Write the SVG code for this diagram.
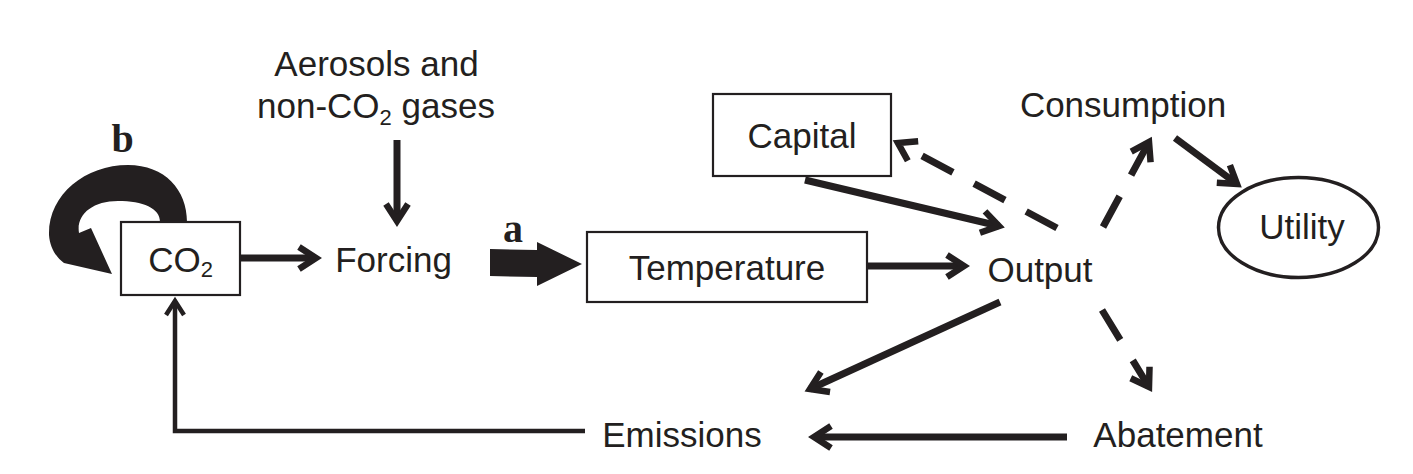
<svg xmlns="http://www.w3.org/2000/svg" width="1413" height="474" viewBox="0 0 1413 474">
<style>
  text { font-family: "Liberation Sans", Arial, sans-serif; font-size: 35px; fill: #231f20; }
  .lbl { font-family: "Liberation Serif", "Times New Roman", serif; font-weight: bold; font-size: 40px; }
  .box { fill: #ffffff; stroke: #231f20; stroke-width: 2.2; }
  .ell { fill: #ffffff; stroke: #231f20; stroke-width: 3.5; }
  .c { fill: none; stroke: #231f20; stroke-width: 7; stroke-linecap: butt; }
  .thin { fill: none; stroke: #231f20; stroke-width: 4.5; }
  .dash { stroke-dasharray: 35 24; }
  .solid { fill: #231f20; stroke: none; }
</style>
<defs>
  <marker id="ah" markerUnits="userSpaceOnUse" markerWidth="40" markerHeight="40" viewBox="-25 -20 40 40" refX="0" refY="0" orient="auto" overflow="visible">
    <path d="M-17,-11 L0,0 L-17,11" fill="none" stroke="#231f20" stroke-width="6.5" stroke-linejoin="miter" stroke-miterlimit="10"/>
  </marker>
  <marker id="ahs" markerUnits="userSpaceOnUse" markerWidth="40" markerHeight="40" viewBox="-25 -20 40 40" refX="0" refY="0" orient="auto" overflow="visible">
    <path d="M-14,-9 L0,0 L-14,9" fill="none" stroke="#231f20" stroke-width="4.5" stroke-linejoin="miter" stroke-miterlimit="10"/>
  </marker>
</defs>

<g id="connectors">
  <!-- self loop b -->
  <path id="loop-b" class="solid" d="M187,222 C187,190 165,165 128,165 C85,165 48,195 49,235 C50,248 56,257 64,263 L112,274 L91,228 L79,233 C76,215 92,201 118,201 C143,201 160,208 160,222 Z"/>
  <!-- big arrow a -->
  <polygon id="arrow-a" class="solid" points="490,249 537,250 537,242 582,264 537,286 537,277 490,276"/>
  <!-- CO2 -> Forcing -->
  <line class="c" x1="240" y1="258" x2="316" y2="258" marker-end="url(#ah)"/>
  <!-- Aerosols -> Forcing -->
  <line class="c" x1="397" y1="140" x2="397" y2="221" marker-end="url(#ah)"/>
  <!-- Temperature -> Output -->
  <line class="c" x1="867" y1="266" x2="964" y2="266" marker-end="url(#ah)"/>
  <!-- Capital -> Output -->
  <line class="c" x1="805" y1="180" x2="999" y2="226" marker-end="url(#ah)"/>
  <!-- Output -> Capital (dashed) -->
  <line class="c dash" x1="1057" y1="228" x2="898" y2="143" marker-end="url(#ah)"/>
  <!-- Output -> Consumption (dashed) -->
  <line class="c dash" x1="1103" y1="227" x2="1149" y2="142" marker-end="url(#ah)"/>
  <!-- Output -> Abatement (dashed) -->
  <line class="c dash" x1="1102" y1="310" x2="1149" y2="387" marker-end="url(#ah)"/>
  <!-- Consumption -> Utility -->
  <line class="c" x1="1175" y1="138" x2="1237" y2="184" marker-end="url(#ah)"/>
  <!-- Output -> Emissions -->
  <line class="c" x1="1000" y1="302" x2="810" y2="389" marker-end="url(#ah)"/>
  <!-- Abatement -> Emissions -->
  <line class="c" x1="1067" y1="437" x2="814" y2="437" marker-end="url(#ah)"/>
  <!-- Emissions -> CO2 -->
  <polyline class="thin" points="585,431 175,431 175,301" marker-end="url(#ahs)"/>
</g>

<g id="node-co2">
  <rect class="box" x="121" y="222" width="119" height="73"/>
  <text x="180.5" y="272" text-anchor="middle">CO<tspan font-size="22" dy="5">2</tspan></text>
</g>
<g id="label-b"><text class="lbl" x="122.5" y="152" text-anchor="middle">b</text></g>
<g id="label-a"><text class="lbl" x="513" y="242" text-anchor="middle">a</text></g>
<g id="node-aerosols">
  <text x="376.5" y="76" text-anchor="middle">Aerosols and</text>
  <text x="376" y="118" text-anchor="middle">non-CO<tspan font-size="22" dy="7">2</tspan><tspan dy="-7"> gases</tspan></text>
</g>
<g id="node-forcing"><text x="393.5" y="272" text-anchor="middle">Forcing</text></g>
<g id="node-temperature">
  <rect class="box" x="587" y="232" width="280" height="70"/>
  <text x="727" y="280" text-anchor="middle">Temperature</text>
</g>
<g id="node-capital">
  <rect class="box" x="713" y="94" width="178" height="82"/>
  <text x="802" y="148" text-anchor="middle">Capital</text>
</g>
<g id="node-output"><text x="1040" y="282" text-anchor="middle">Output</text></g>
<g id="node-consumption"><text x="1123" y="117" text-anchor="middle">Consumption</text></g>
<g id="node-utility">
  <ellipse class="ell" cx="1298.5" cy="227.5" rx="80" ry="50"/>
  <text x="1302" y="239" text-anchor="middle">Utility</text>
</g>
<g id="node-abatement"><text x="1178" y="447" text-anchor="middle">Abatement</text></g>
<g id="node-emissions"><text x="682" y="447" text-anchor="middle">Emissions</text></g>
</svg>
